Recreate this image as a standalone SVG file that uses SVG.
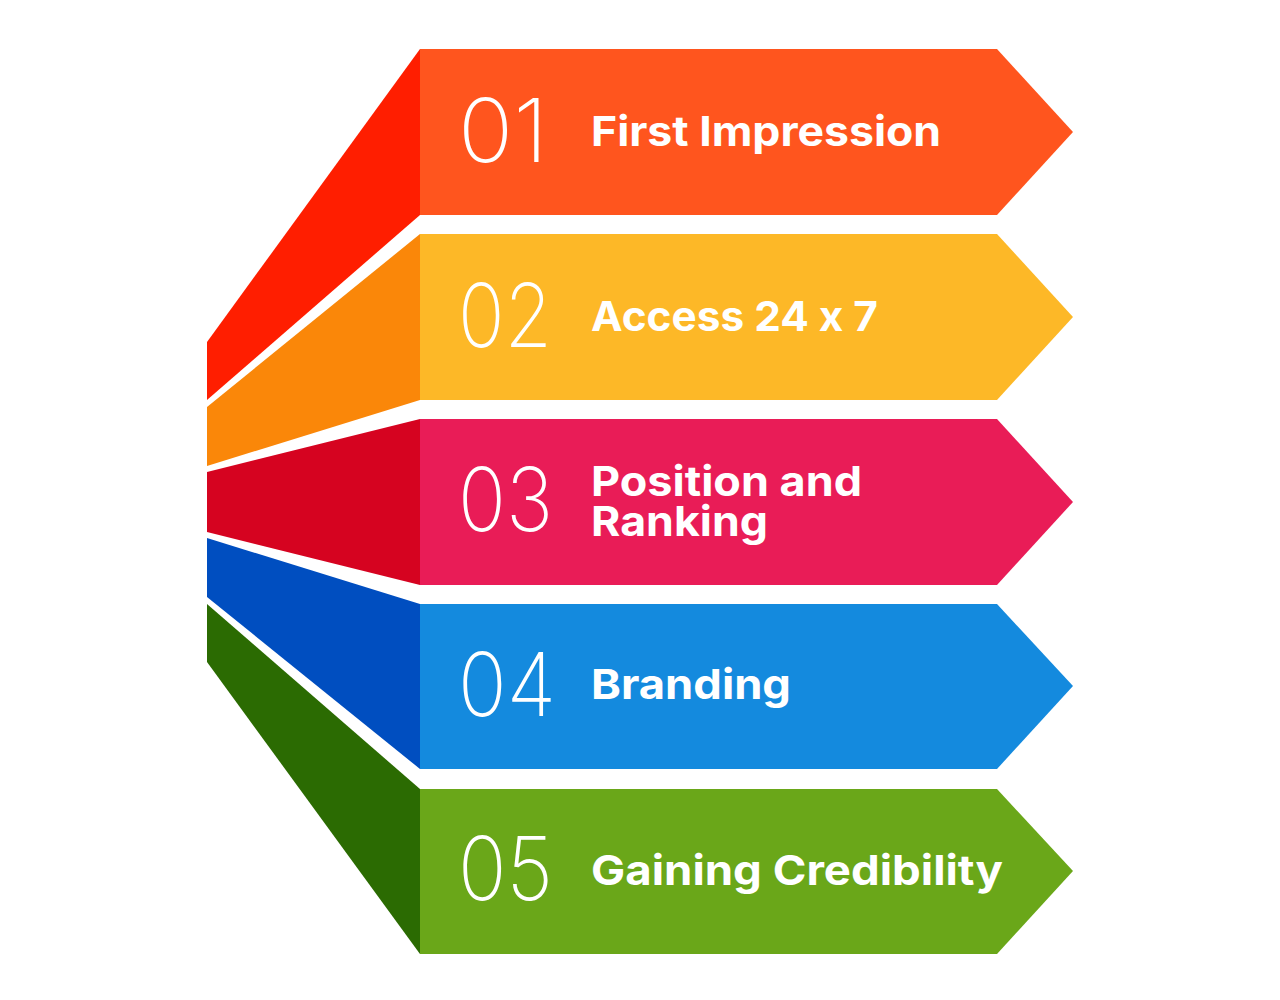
<svg xmlns="http://www.w3.org/2000/svg" width="1280" height="1000" viewBox="0 0 1280 1000">
  <style>
    .num { font-family: Inter, Lato, "Open Sans", sans-serif; font-weight: 200; font-size: 88px; fill: #ffffff; }
    .ttl { font-family: Inter, "Open Sans", "Liberation Sans", sans-serif; font-weight: 700; font-size: 41px; fill: #ffffff; font-feature-settings: "calt" 0; font-variant-ligatures: none; }
  </style>
  <rect width="1280" height="1000" fill="#ffffff"/>
  <g id="side-faces">
    <polygon points="420,49 420,215 207,400 207,342" fill="#FF1E00"/>
    <polygon points="420,234 420,400 207,466 207,407" fill="#FA8709"/>
    <polygon points="420,419 420,585 207,532 207,472" fill="#D60320"/>
    <polygon points="420,604 420,769 207,597 207,538" fill="#004EC0"/>
    <polygon points="420,789 420,954 207,662 207,604" fill="#2B6B02"/>
  </g>
  <g id="step-01">
    <polygon points="420,49 997,49 1073,132 997,215 420,215" fill="#FF551E"/>
    <text class="num" x="458" y="162" textLength="90" lengthAdjust="spacingAndGlyphs">01</text>
    <text class="ttl" x="591" y="146" textLength="350" lengthAdjust="spacingAndGlyphs">First Impression</text>
  </g>
  <g id="step-02">
    <polygon points="420,234 997,234 1073,317 997,400 420,400" fill="#FDB827"/>
    <text class="num" x="458" y="347" textLength="94" lengthAdjust="spacingAndGlyphs">02</text>
    <text class="ttl" x="591" y="331" textLength="287" lengthAdjust="spacingAndGlyphs">Access 24 x 7</text>
  </g>
  <g id="step-03">
    <polygon points="420,419 997,419 1073,502 997,585 420,585" fill="#E91C57"/>
    <text class="num" x="458" y="531" textLength="95" lengthAdjust="spacingAndGlyphs">03</text>
    <text class="ttl" x="591" y="496" textLength="271" lengthAdjust="spacingAndGlyphs">Position and</text>
    <text class="ttl" x="591" y="536" textLength="177" lengthAdjust="spacingAndGlyphs">Ranking</text>
  </g>
  <g id="step-04">
    <polygon points="420,604 997,604 1073,686 997,769 420,769" fill="#148ADE"/>
    <text class="num" x="458" y="716" textLength="98" lengthAdjust="spacingAndGlyphs">04</text>
    <text class="ttl" x="591" y="699" textLength="200" lengthAdjust="spacingAndGlyphs">Branding</text>
  </g>
  <g id="step-05">
    <polygon points="420,789 997,789 1073,871 997,954 420,954" fill="#6AA719"/>
    <text class="num" x="458" y="900" textLength="95" lengthAdjust="spacingAndGlyphs">05</text>
    <text class="ttl" x="591" y="885" textLength="412" lengthAdjust="spacingAndGlyphs">Gaining Credibility</text>
  </g>
  <g id="connectors"></g>
</svg>
